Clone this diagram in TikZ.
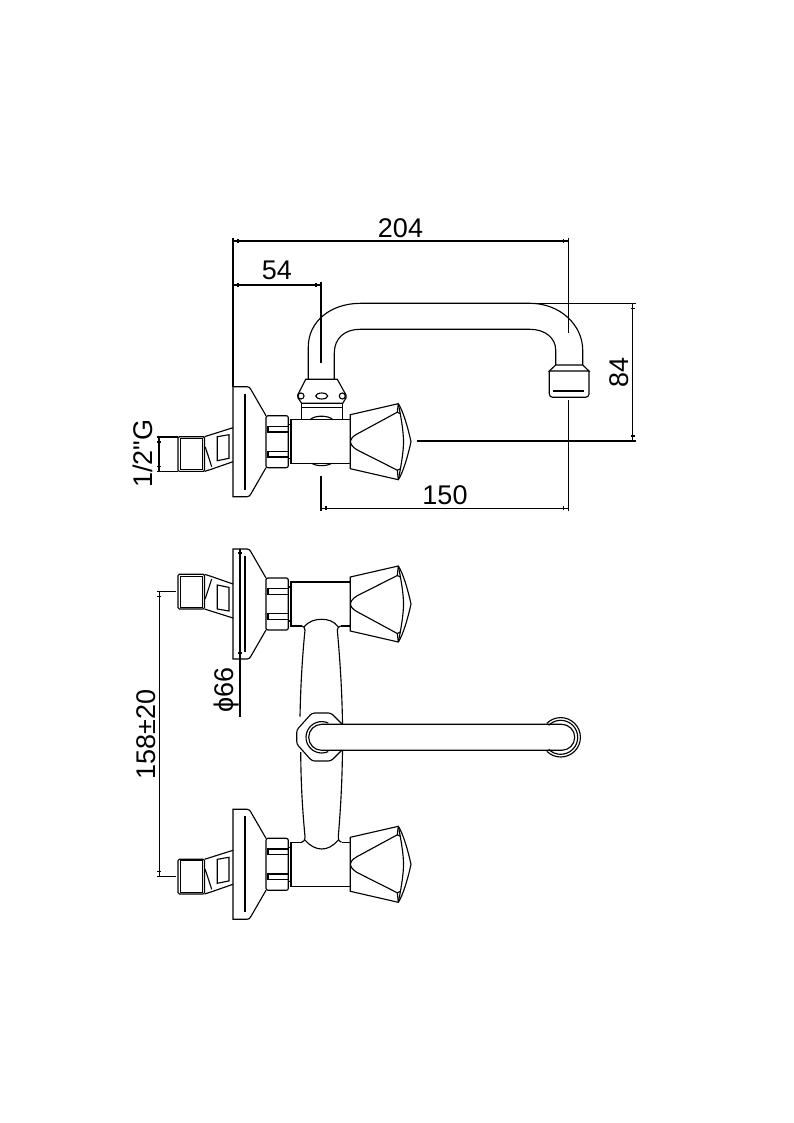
\documentclass[tikz,border=0pt]{standalone}
\usepackage{fontspec}
\newfontfamily\dimfont{Liberation Sans}
\usetikzlibrary{decorations.markings}

\tikzset{
  pics/valve/.style={code={
    % flange
    \draw (266,-26) -- (251,-52) .. controls (250,-54) and (249,-55) .. (247,-55) -- (233,-55) -- (233,55)
      -- (247,55) .. controls (249,55) and (250,54) .. (251,52) -- (266,26);
    \draw (245,-48) -- (245,48);
    % nut
    \draw[rounded corners=1.5pt] (266,-26) rectangle (288.3,26);
    \draw (268,-15.3) rectangle (288.3,-9.7);
    \draw (268,9.7) rectangle (288.3,15.3);
    \draw (288.3,-17) rectangle (291,17);
    % body
    \draw (291,-22) rectangle (350.3,22);
    % knob
    \draw (350.3,-27) -- (398.3,-38) .. controls (403,-31) and (408,-14) .. (411,0)
      .. controls (408,14) and (403,31) .. (398.3,38) -- (350.3,27) -- cycle;
    \draw (397.3,-29.5) -- (356.7,-7.5) .. controls (352,-5) and (350.5,-2) .. (350.5,0)
      .. controls (350.5,2) and (352,5) .. (356.7,8) -- (397.3,28.5);
    \draw (398.3,-38) .. controls (402,-20) and (403.5,-8) .. (403.5,0)
      .. controls (403.5,8) and (402,20) .. (398.3,38);
    \draw (397.3,-29.5) -- (398.3,-38) (397.3,28.5) -- (398.3,38);
    \draw (400.5,-28) -- (397.3,-29.5) (400.5,27) -- (397.3,28.5);
    % nipple
    \draw[rounded corners=1pt] (178,-5) rectangle (204.5,29.7);
    \draw[line width=0.5pt] (180,-3.5) rectangle (202.5,28);
    \draw (204.5,-5) -- (233,-14);
    \draw (204.5,29.7) -- (210,28) -- (233,20);
    \draw (205,5) .. controls (207,10) and (210,20) .. (211.7,25);
    \draw (217.3,-5) -- (229,-7) -- (229,16.6) -- (217.3,19) -- cycle;
  }}
}

\begin{document}
\begin{tikzpicture}[x=0.75pt,y=-0.75pt,line width=0.85pt]
\tikzstyle{dimline}=[line width=0.8pt,postaction={decorate},decoration={markings,
  mark=at position 3.75pt with {\draw[line width=0.8pt] (0,-1.6pt) -- (0,1.6pt);},
  mark=at position -3.75pt with {\draw[line width=0.8pt] (0,-1.6pt) -- (0,1.6pt);}}]
\tikzstyle{extline}=[line width=0.8pt]
\tikzstyle{dimtext}=[font=\dimfont\fontsize{20.25}{24}\selectfont,inner sep=0pt]

\useasboundingbox (0,0) rectangle (793,1123);
\fill[white] (0,0) rectangle (793,1123);

% the three valves
\pic at (0,441.7) {valve};
\pic[yscale=-1] at (0,604) {valve};
\pic at (0,864.3) {valve};

% spout, side view
\draw (308.3,379.3) -- (308.3,346.7) .. controls (308.3,322) and (330,303.3) .. (360.7,303.3)
  -- (530,303.3) .. controls (560,303.3) and (582.7,325) .. (582.7,350) -- (582.7,365);
\draw (334.3,379.3) -- (334.3,353) .. controls (334.3,338) and (345,329.3) .. (360,329.3)
  -- (530,329.3) .. controls (545,329.3) and (555.7,338) .. (555.7,350) -- (555.7,365);
\draw (555.7,365) -- (582.7,365) -- (589,371) -- (549.3,371) -- cycle;
\draw[rounded corners=2.5pt] (549.3,371) -- (549.3,397.3) -- (589,397.3) -- (589,371);
\draw (553.3,391) -- (584.3,391);

% bonnet
\draw (305.7,379.3) -- (337.3,379.3) -- (346,395) -- (346,398) -- (342.7,403.3)
  -- (301.7,403.3) -- (298,398) -- (297.7,395) -- cycle;
\draw (301,396) circle[radius=3];
\draw (342.3,396) circle[radius=3];
\draw (321.7,396) ellipse[x radius=6,y radius=3];
\draw[line width=1.2pt] (301.7,407.3) -- (342.7,407.3);
\draw (301.7,403.3) -- (301.7,419.7);
\draw (342.7,403.3) -- (342.7,419.7);
\draw (310,419.7) .. controls (315,415) and (328,415) .. (333,419.7);
\draw (311.7,463.2) .. controls (316,466.5) and (327,466.5) .. (331.7,463.2);

% column between the valves, front view
\fill[white] (302,624.5) rectangle (340.5,628);
\fill[white] (301.5,840.5) rectangle (341.5,844);
\draw (301.7,626) .. controls (303.5,626) and (305,628) .. (305,630)
  .. controls (302,660) and (300.5,690) .. (300,716.5);
\draw (340.7,626) .. controls (339,626) and (337.3,628) .. (337.3,630)
  .. controls (340,660) and (342,690) .. (342.5,724);
\draw (304,627) .. controls (309,621) and (315,619.3) .. (321.7,619.3) .. controls (328,619.3) and (334,621) .. (338.3,627);
\draw (300.7,752) .. controls (301,790) and (303,815) .. (305,836.7) .. controls (305,840) and (303.5,842.3) .. (301.5,842.3);
\draw (342.5,750) .. controls (342,790) and (340,815) .. (338.3,836.7) .. controls (338.3,840) and (339.5,842.3) .. (341.5,842.3);
\draw (305,840) .. controls (310,846) and (316,849) .. (321.7,849) .. controls (328,849) and (333,846) .. (338.3,840);

% swivel and spout, front view
\draw[rounded corners=2pt] (342,724) -- (331,713) -- (312,713) -- (296.7,730) -- (296.7,744) -- (312,761) -- (331,761) -- (342,750);
\draw (321.7,737.3) ++(-65:15.7) arc[start angle=-65,end angle=-295,radius=15.7];
\draw (561.7,724.3) -- (321.7,724.3) arc[start angle=-90,end angle=-270,radius=13] -- (561.7,750.3)
  arc[start angle=90,end angle=-90,radius=13];
\draw (560.7,737.3) ++(-135:19.7) arc[start angle=-135,end angle=135,radius=19.7];
\draw (560.7,737.3) ++(-135:17) arc[start angle=-135,end angle=135,radius=17];

% dimensions
\coordinate (a204) at (233,241);
\coordinate (b204) at (568.3,241);
\coordinate (a54) at (233,285);
\coordinate (b54) at (321,285);
\coordinate (a150) at (321,508.3);
\coordinate (b150) at (568.3,508.3);
\coordinate (a84) at (632.7,303.3);
\coordinate (b84) at (632.7,441);
\coordinate (aG) at (159,437);
\coordinate (bG) at (159,471.7);
\coordinate (a158) at (159.3,591.7);
\coordinate (b158) at (159.3,876.7);

\draw[dimline] (a204) -- (b204);
\draw[dimline] (a54) -- (b54);
\draw[dimline] (a150) -- (b150);
\draw[dimline] (a84) -- (b84);
\draw[dimline] (aG) -- (bG);
\draw[dimline] (a158) -- (b158);

\draw[extline] (233,238) -- (233,387);
\draw[extline] (568.3,238) -- (568.3,333);
\draw[extline] (568.3,400) -- (568.3,511);
\draw[extline] (321,282) -- (321,362.7);
\draw[extline] (321,475.7) -- (321,511);
\draw[extline] (530,303.3) -- (636,303.3);
\draw[extline] (416.7,441) -- (636,441);
\draw[extline] (157,437) -- (178,437);
\draw[extline] (157,471.7) -- (178,471.7);
\draw[extline] (157,591.7) -- (176,591.7);
\draw[extline] (157,876.7) -- (176,876.7);
\draw[extline] (240,549) -- (240,717);
\draw[extline] (238,553) -- (242,553);
\draw[extline] (238,653) -- (242,653);

\node[dimtext] (t204) at (400.5,228) {204};
\node[dimtext] (t54) at (277,270.5) {54};
\node[dimtext] (t150) at (445,495.5) {150};
\node[dimtext,rotate=90] (t84) at (619,372.5) {84};
\node[dimtext,rotate=90] (tG) at (143,453.5) {1/2"G};
\node[dimtext,rotate=90] (t158) at (146,734.5) {158±20};
\node[dimtext,rotate=90] (t66) at (227,690) {ϕ66};
\end{tikzpicture}
\end{document}
